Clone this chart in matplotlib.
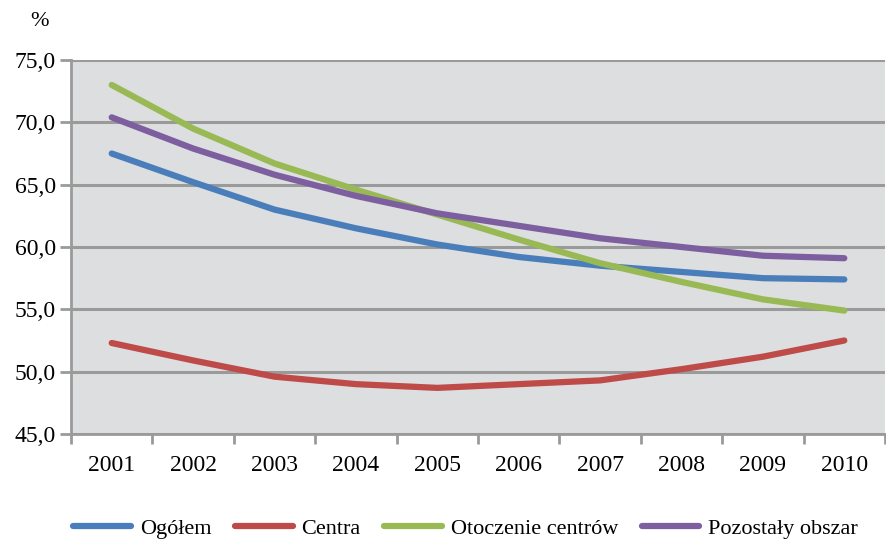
import numpy as np
import matplotlib.pyplot as plt
from matplotlib.ticker import FixedLocator, FuncFormatter

plt.rcParams['font.family'] = ['Liberation Serif', 'DejaVu Serif']

# Data
years = ['2001', '2002', '2003', '2004', '2005', '2006', '2007', '2008', '2009', '2010']
ogolem = [67.5, 65.2, 63.0, 61.5, 60.2, 59.2, 58.5, 58.0, 57.5, 57.4]
centra = [52.3, 50.9, 49.6, 49.0, 48.7, 49.0, 49.3, 50.2, 51.2, 52.5]
otoczenie = [73.0, 69.5, 66.7, 64.6, 62.6, 60.6, 58.7, 57.2, 55.8, 54.9]
pozostaly = [70.4, 67.9, 65.8, 64.1, 62.7, 61.7, 60.7, 60.0, 59.3, 59.1]

series = [
    ('Ogółem', ogolem, '#4A7EBB'),
    ('Centra', centra, '#BE4B48'),
    ('Otoczenie centrów', otoczenie, '#98B954'),
    ('Pozostały obszar', pozostaly, '#7D5FA0'),
]

fig = plt.figure(figsize=(8.87, 5.43), dpi=100)
ax = fig.add_axes([71 / 887, 1 - 434 / 543, 814 / 887, 374 / 543])
ax.set_facecolor('#DDDEE0')

x = np.arange(len(years))
for name, vals, col in series:
    ax.plot(x, vals, color=col, lw=4.5, label=name,
            solid_capstyle='round', solid_joinstyle='round', zorder=3)

ax.set_xlim(-0.5, len(years) - 0.5)
ax.set_ylim(45, 75)
ax.set_yticks(np.arange(45, 75.1, 5))
ax.yaxis.set_major_formatter(FuncFormatter(lambda v, p: f'{v:.1f}'.replace('.', ',')))
ax.grid(axis='y', color='#9A9A9A', lw=2.2, zorder=1)
ax.set_axisbelow(True)

# categories sit between tick marks
ax.xaxis.set_major_locator(FixedLocator(np.arange(-0.5, len(years), 1)))
ax.xaxis.set_major_formatter(FuncFormatter(lambda v, p: ''))
ax.xaxis.set_minor_locator(FixedLocator(x))
ax.set_xticklabels(years, minor=True)
ax.tick_params(axis='x', which='major', length=7, width=2, color='#9A9A9A')
ax.tick_params(axis='x', which='minor', length=0, pad=15, labelsize=17)
ax.tick_params(axis='y', length=8, width=2, color='#9A9A9A', pad=3, labelsize=17)

for s in ['top', 'right']:
    ax.spines[s].set_visible(False)
for s in ['left', 'bottom']:
    ax.spines[s].set_color('#9A9A9A')
    ax.spines[s].set_linewidth(2)

fig.text(40 / 887, 1 - 22 / 543, '%', fontsize=16, ha='center', va='center')

fig.legend(loc='center', bbox_to_anchor=(0.525, 1 - 529 / 543), ncol=4, frameon=False,
           fontsize=16, handlelength=2.6, columnspacing=1.05, handletextpad=0.4)

fig.savefig('out.png', dpi=100)
